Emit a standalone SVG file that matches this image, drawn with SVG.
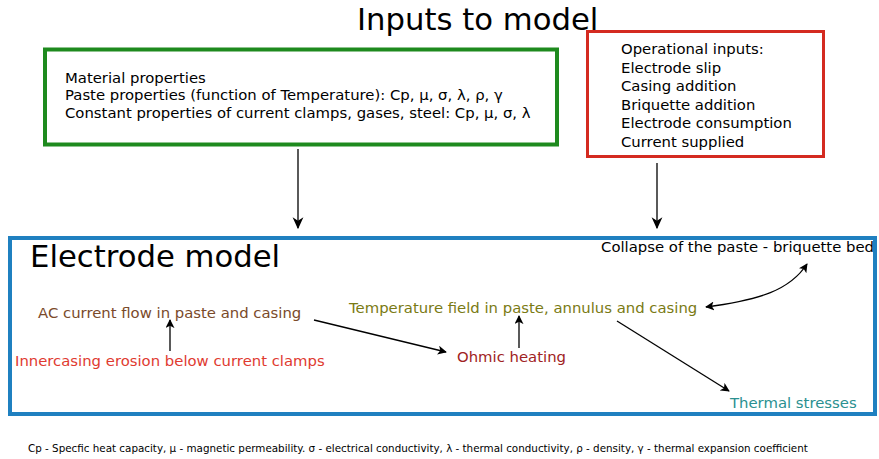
<svg xmlns="http://www.w3.org/2000/svg" width="879" height="459" viewBox="0 0 879 459">
<defs>
<marker id="ah" viewBox="0 0 10 10" refX="9" refY="5" markerWidth="9" markerHeight="9" markerUnits="userSpaceOnUse" orient="auto-start-reverse">
<path d="M0,0 L10,5 L0,10 L2.5,5 z" fill="#000"/>
</marker>
<marker id="ahb" viewBox="0 0 10 10" refX="9" refY="5" markerWidth="12" markerHeight="12" markerUnits="userSpaceOnUse" orient="auto-start-reverse">
<path d="M0,0.5 L10,5 L0,9.5 L3,5 z" fill="#000"/>
</marker>
<style>
text{font-family:"DejaVu Sans","Liberation Sans",sans-serif;}
.t15{font-size:14.85px;fill:#000;}
.big{font-size:30.7px;fill:#000;}
.c{stroke:#000;stroke-width:1.3;fill:none;}
.foot{font-size:10.35px;fill:#000;}
</style>
</defs>
<rect width="879" height="459" fill="#fff"/>
<text class="big" x="357" y="30">Inputs to model</text>
<g id="material">
<rect x="45" y="49.5" width="512" height="95" fill="#fff" stroke="#1e8a1e" stroke-width="4"/>
<text class="t15" x="65" y="82.5">Material properties</text>
<text class="t15" x="65" y="100">Paste properties (function of Temperature): Cp, μ, σ, λ, ρ, γ</text>
<text class="t15" x="65" y="117.5">Constant properties of current clamps, gases, steel: Cp, μ, σ, λ</text>
</g>
<g id="operational">
<rect x="587.5" y="31.5" width="236" height="125" fill="#fff" stroke="#d42a20" stroke-width="3"/>
<text class="t15" x="621" y="54">Operational inputs:</text>
<text class="t15" x="621" y="73">Electrode slip</text>
<text class="t15" x="621" y="91">Casing addition</text>
<text class="t15" x="621" y="110">Briquette addition</text>
<text class="t15" x="621" y="128">Electrode consumption</text>
<text class="t15" x="621" y="147">Current supplied</text>
</g>
<g id="electrode-model">
<rect x="10" y="238" width="865" height="176" fill="none" stroke="#1f80c0" stroke-width="4"/>
<text class="big" x="30" y="267">Electrode model</text>
</g>
<g id="collapse"><text class="t15" x="874" y="252" text-anchor="end">Collapse of the paste - briquette bed</text></g>
<g id="ac-current"><text x="38" y="318" style="font-size:14.85px;fill:#7a4a2a">AC current flow in paste and casing</text></g>
<g id="innercasing"><text x="15" y="366" style="font-size:14.85px;fill:#e03a30">Innercasing erosion below current clamps</text></g>
<g id="temperature"><text x="349" y="313" style="font-size:14.85px;fill:#7a7a14">Temperature field in paste, annulus and casing</text></g>
<g id="ohmic"><text x="457" y="362" style="font-size:14.85px;fill:#a02222">Ohmic heating</text></g>
<g id="thermal"><text x="730" y="408" style="font-size:14.85px;fill:#2a9090">Thermal stresses</text></g>
<g id="connectors">
<line class="c" x1="298" y1="149" x2="298" y2="228" marker-end="url(#ahb)"/>
<line class="c" x1="657" y1="163" x2="657" y2="228" marker-end="url(#ahb)"/>
<line class="c" x1="170" y1="351" x2="170" y2="320" marker-end="url(#ah)"/>
<line class="c" x1="314" y1="320" x2="446" y2="352" marker-end="url(#ah)"/>
<line class="c" x1="519" y1="348" x2="519" y2="316" marker-end="url(#ah)"/>
<line class="c" x1="617" y1="321" x2="729" y2="391" marker-end="url(#ah)"/>
<path class="c" d="M706,307 C760,300 790,290 807,264" marker-start="url(#ah)" marker-end="url(#ah)"/>
</g>
<text class="foot" x="28" y="452">Cp - Specfic heat capacity, μ - magnetic permeability. σ - electrical conductivity, λ - thermal conductivity, ρ - density, γ - thermal expansion coefficient</text>
</svg>
